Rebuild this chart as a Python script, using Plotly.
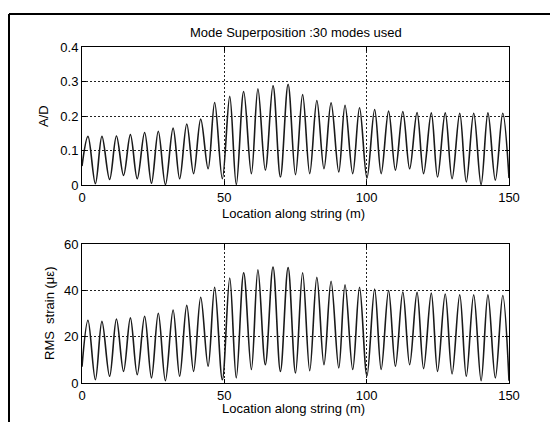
import plotly.graph_objects as go

# page body has an 8px margin: figure is drawn 8px in from the window corner
OX, OY = 8, 8
W, H = 550, 414

# ---- data ----
x_peaks = [2.1, 7.0, 12.1, 17.0, 22.0, 26.8, 32.0, 36.8, 41.7, 46.6,
           51.9, 56.8, 61.8, 67.1, 72.4, 77.5, 82.5, 87.5, 92.4, 97.5,
           102.8, 107.7, 112.7, 117.7, 122.7, 127.6, 132.7, 137.6, 142.6, 147.8]
x_troughs = [0.0, 4.7, 9.7, 14.6, 19.4, 24.4, 29.3, 34.3, 39.2, 44.3, 49.3,
             54.2, 59.5, 64.4, 69.7, 75.0, 80.0, 85.0, 90.2, 95.1, 100.1,
             105.1, 110.1, 115.1, 120.0, 124.9, 130.0, 135.0, 140.2, 145.2, 150.0]

ad_peaks = [0.141, 0.141, 0.142, 0.146, 0.152, 0.156, 0.165, 0.177, 0.191, 0.239,
            0.257, 0.271, 0.279, 0.288, 0.292, 0.262, 0.245, 0.238, 0.231, 0.224,
            0.219, 0.214, 0.213, 0.210, 0.209, 0.209, 0.208, 0.208, 0.209, 0.208]
ad_troughs = [0.055, 0.004, 0.016, 0.028, 0.018, 0.005, 0.001, 0.018, 0.033, 0.047, 0.018,
              0.001, 0.033, 0.043, 0.023, 0.030, 0.033, 0.047, 0.038, 0.033, 0.020,
              0.033, 0.043, 0.047, 0.033, 0.023, 0.018, 0.009, 0.001, 0.014, 0.020]

rms_peaks = [27.1, 26.6, 27.6, 28.1, 28.8, 30.1, 31.5, 33.5, 37.0, 41.3,
             45.3, 47.6, 48.9, 50.1, 49.8, 47.6, 45.6, 43.9, 42.4, 41.3,
             40.6, 39.9, 39.3, 39.1, 38.8, 38.4, 38.1, 38.1, 38.1, 37.8]
rms_troughs = [7.0, 1.4, 2.9, 5.0, 3.6, 2.2, 1.0, 2.9, 5.0, 7.2, 1.4,
               2.2, 5.8, 7.9, 5.0, 4.3, 5.3, 7.9, 6.5, 5.8, 3.0,
               5.8, 7.2, 7.9, 6.2, 5.0, 3.9, 2.9, 1.0, 2.2, 1.0]

x_ticks = [0, 50, 100, 150]
ad_ticks = [0, 0.1, 0.2, 0.3, 0.4]
rms_ticks = [0, 20, 40, 60]

title_text = "Mode Superposition :30 modes used"
xlabel_text = "Location along string (m)"
ad_label = "A/D"
rms_label = "RMS  strain (\u03bc\u03b5)"


def interleave(xp, xt, yp, yt):
    xs, ys = [xt[0]], [yt[0]]
    for i in range(len(xp)):
        xs += [xp[i], xt[i + 1]]
        ys += [yp[i], yt[i + 1]]
    return xs, ys


def fx(px):
    return (px - OX) / W


def fy(py):
    return 1 - (py - OY) / H


FONT = "Liberation Sans, Arial, Helvetica, sans-serif"
LINE = dict(color="#1a1a1a", width=1.6, shape="spline", smoothing=1.0)

fig = go.Figure()
x1, y1 = interleave(x_peaks, x_troughs, ad_peaks, ad_troughs)
x2, y2 = interleave(x_peaks, x_troughs, rms_peaks, rms_troughs)
fig.add_trace(go.Scatter(x=x1, y=y1, mode="lines", line=LINE,
                         xaxis="x", yaxis="y", showlegend=False, hoverinfo="skip"))
fig.add_trace(go.Scatter(x=x2, y=y2, mode="lines", line=LINE,
                         xaxis="x2", yaxis="y2", showlegend=False, hoverinfo="skip"))

px_l, px_r = 82, 509
top_t, top_b = 47, 185
bot_t, bot_b = 244, 383

common = dict(showline=True, linecolor="black", linewidth=1, mirror="ticks",
              ticks="inside", ticklen=4, tickcolor="black", tickwidth=1,
              showgrid=True, gridcolor="#222222", gridwidth=1, griddash="1.5px,2.5px",
              zeroline=False, tickfont=dict(family=FONT, size=13, color="black"),
              automargin=False, fixedrange=True)

fig.update_layout(
    width=W, height=H,
    margin=dict(l=0, r=0, t=0, b=0),
    paper_bgcolor="white", plot_bgcolor="white",
    font=dict(family=FONT, size=13, color="black"),
    xaxis=dict(domain=[fx(px_l), fx(px_r)], anchor="y", range=[0, 150],
               tickmode="array", tickvals=x_ticks, **common),
    yaxis=dict(domain=[fy(top_b), fy(top_t)], anchor="x", range=[0, 0.4],
               tickmode="array", tickvals=ad_ticks, ticktext=[str(v) for v in ad_ticks], **common),
    xaxis2=dict(domain=[fx(px_l), fx(px_r)], anchor="y2", range=[0, 150],
                tickmode="array", tickvals=x_ticks, **common),
    yaxis2=dict(domain=[fy(bot_b), fy(bot_t)], anchor="x2", range=[0, 60],
                tickmode="array", tickvals=rms_ticks, **common),
)

ann_font = dict(family=FONT, size=13, color="black")
anns = [
    dict(text=title_text, x=fx(295.5), y=fy(32)),
    dict(text=xlabel_text, x=fx(293.5), y=fy(213)),
    dict(text=xlabel_text, x=fx(293.5), y=fy(408)),
    dict(text=ad_label, x=fx(43), y=fy(116), textangle=-90),
    dict(text=rms_label, x=fx(49), y=fy(314), textangle=-90),
]
for a in anns:
    fig.add_annotation(xref="paper", yref="paper", showarrow=False,
                       xanchor="center", yanchor="middle", font=ann_font, **a)

# outer frame of the figure
fig.add_shape(type="line", xref="paper", yref="paper", x0=fx(9), x1=fx(9),
              y0=-0.05, y1=fy(14), line=dict(color="black", width=2))
fig.add_shape(type="line", xref="paper", yref="paper", x0=fx(9), x1=fx(555),
              y0=fy(14), y1=fy(14), line=dict(color="black", width=2))
fig.add_shape(type="line", xref="paper", yref="paper", x0=fx(555), x1=fx(555),
              y0=-0.05, y1=fy(14), line=dict(color="#9a9a9a", width=1))

fig.write_html("out.html", config=dict(displayModeBar=False))
